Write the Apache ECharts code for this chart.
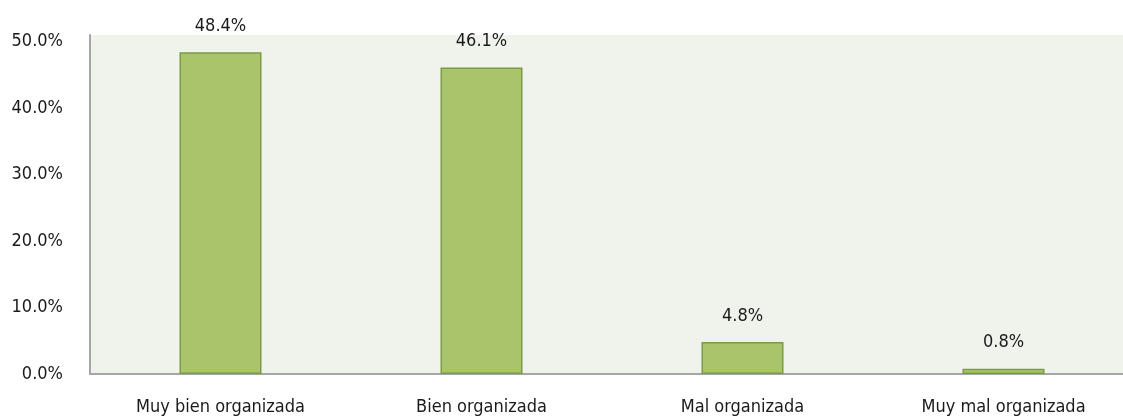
<!DOCTYPE html>
<html><head><meta charset="utf-8">
<script src="https://cdn.jsdelivr.net/npm/echarts@6/dist/echarts.min.js"></script>
<style>html,body{margin:0;padding:0;background:#fff;overflow:hidden;width:1123px;height:417px}#c{width:1134px;height:417px}</style>
</head><body><div id="c"></div>
<script>
const categories = ["Muy bien organizada", "Bien organizada", "Mal organizada", "Muy mal organizada"];
const values = [48.4, 46.1, 4.8, 0.8];
const yTicks = [0, 10, 20, 30, 40, 50];
const FONT = '"Liberation Sans Narrow", "DejaVu Sans Condensed", "Roboto", sans-serif';
const chart = echarts.init(document.getElementById('c'), null, {renderer: 'canvas'});
chart.setOption({
  animation: false,
  textStyle: {fontFamily: FONT},
  grid: {left: 90, right: 0, top: 35, bottom: 43, show: true, backgroundColor: '#F0F3EC', borderWidth: 0},
  xAxis: {
    type: 'category', data: categories,
    axisLine: {show: true, lineStyle: {color: '#A6A6A6', width: 2}},
    axisTick: {show: false},
    axisLabel: {color: '#1a1a1a', fontSize: 18, margin: 24, fontFamily: FONT, interval: 0}
  },
  yAxis: {
    type: 'value', min: 0, max: 51, interval: 10,
    axisLine: {show: true, lineStyle: {color: '#A6A6A6', width: 2}},
    axisTick: {show: false},
    splitLine: {show: false},
    axisLabel: {color: '#1a1a1a', fontSize: 18, margin: 27, fontFamily: FONT,
      formatter: v => yTicks.includes(v) ? v.toFixed(1) + '%' : ''}
  },
  series: [{
    type: 'bar', data: values, barWidth: 82,
    itemStyle: {color: '#A9C46B', borderColor: '#7A9A45', borderWidth: 1.5},
    label: {show: true, position: 'top', distance: 17, color: '#1a1a1a', fontSize: 18, fontFamily: FONT,
      formatter: p => p.value.toFixed(1) + '%'}
  }]
});
</script></body></html>
